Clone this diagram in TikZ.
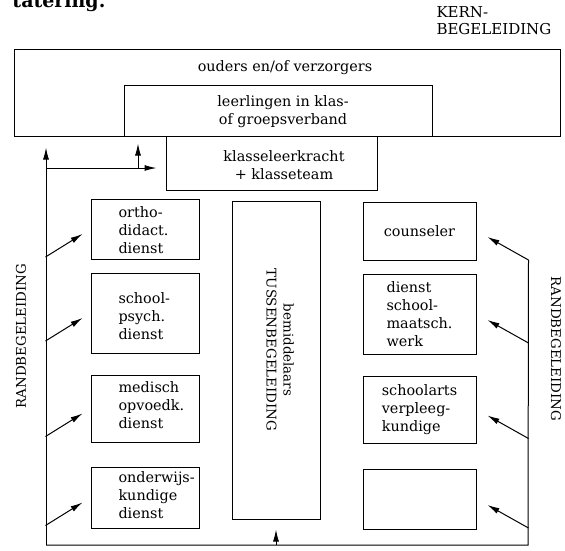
\documentclass[tikz,border=0pt]{standalone}
\usepackage{fontspec}
\setmainfont{DejaVu Serif}
\usetikzlibrary{arrows.meta}

\begin{document}
\begin{tikzpicture}[x=1pt, y=-1pt, line width=1pt,
    box/.style={draw, inner sep=0pt},
    txt/.style={font=\fontsize{14.4}{18}\selectfont, align=left, inner sep=0pt},
    caps/.style={font=\fontsize{13.4}{17}\selectfont, align=center, inner sep=0pt},
    arr/.style={-{Latex[length=12pt,width=6pt]}}]
  \useasboundingbox (0,0) rectangle (565,550);

  % kop
  \node[anchor=base west, inner sep=0pt, font=\bfseries\fontsize{19}{22}\selectfont] (titel) at (12,7) {tatering.};
  \node[anchor=west, align=left, inner sep=0pt, font=\fontsize{15}{17}\selectfont] (kern) at (436,21) {KERN-\\BEGELEIDING};

  % kernbegeleiding
  \node[box, minimum width=546pt, minimum height=87pt] (ouders) at (287,92.5) {};
  \node[box, minimum width=308pt, minimum height=51pt] (leerl) at (278,110.5) {};
  \node[box, minimum width=211pt, minimum height=54pt] (klas) at (271.5,163) {};
  \node[txt, align=center] (ouders-t) at (285,68) {ouders en/of verzorgers};
  \node[txt, align=center] (leerl-t) at (283,112) {leerlingen in klas-\\of groepsverband};
  \node[txt, align=center] (klas-t) at (284,165) {klasseleerkracht\\+ klasseteam};

  % links
  \node[box, minimum width=108pt, minimum height=60pt] (ortho) at (145,229) {};
  \node[box, minimum width=108pt, minimum height=80pt] (psych) at (145,313) {};
  \node[box, minimum width=108pt, minimum height=67pt] (medisch) at (145,408.5) {};
  \node[box, minimum width=108pt, minimum height=61pt] (onderw) at (145,497.5) {};
  \node[txt, anchor=west] (ortho-t) at (118,230) {ortho-\\didact.\\dienst};
  \node[txt, anchor=west] (psych-t) at (118,316) {school-\\psych.\\dienst};
  \node[txt, anchor=west] (medisch-t) at (118,405.5) {medisch\\opvoedk.\\dienst};
  \node[txt, anchor=west] (onderw-t) at (118,495.5) {onderwijs-\\kundige\\dienst};

  % midden
  \node[box, minimum width=88pt, minimum height=318pt] (tussen) at (276,360) {};
  \node[caps, rotate=-90] (tussen-t) at (280,350) {bemiddelaars\\TUSSENBEGELEIDING};

  % rechts
  \node[box, txt, minimum width=113pt, minimum height=58pt] (couns) at (419.5,231) {counseler};
  \node[box, txt, minimum width=113pt, minimum height=80pt] (dienst) at (419.5,314) {dienst\\school-\\maatsch.\\werk};
  \node[box, txt, minimum width=113pt, minimum height=67pt] (arts) at (419.5,409.5) {schoolarts\\verpleeg-\\kundige};
  \node[box, minimum width=113pt, minimum height=60pt] (leeg) at (419.5,499) {};

  \node[caps, rotate=90] (rand-l) at (21,336) {RANDBEGELEIDING};
  \node[caps, rotate=-90] (rand-r) at (556,349) {RANDBEGELEIDING};

  % lijnen en pijlen
  \coordinate (bl) at (46,545);
  \coordinate (br) at (528,545);
  \coordinate (kn) at (46,168);
  \coordinate (kn2) at (138,168);
  \draw[arr, shorten >=11pt] (bl) -- (bl |- ouders.south);
  \draw[arr, shorten >=9pt] (kn) -- (kn -| klas.west);
  \draw[arr, shorten >=7pt] (kn2) -- (kn2 |- ouders.south);
  \draw (bl) -- (br) -- ([xshift=52pt,yshift=-29pt]couns.east);
  \draw[arr, shorten >=10pt] (bl -| tussen.south) -- (tussen.south);
  \foreach \b in {ortho,psych,medisch,onderw}
    \draw[arr] ([xshift=-45pt,yshift=-28pt]\b.west) -- ([xshift=-8pt,yshift=-5pt]\b.west);
  \foreach \b in {couns,dienst,arts,leeg}
    \draw[arr] ([xshift=52pt,yshift=-29pt]\b.east) -- ([xshift=11pt,yshift=-6pt]\b.east);
\end{tikzpicture}
\end{document}
